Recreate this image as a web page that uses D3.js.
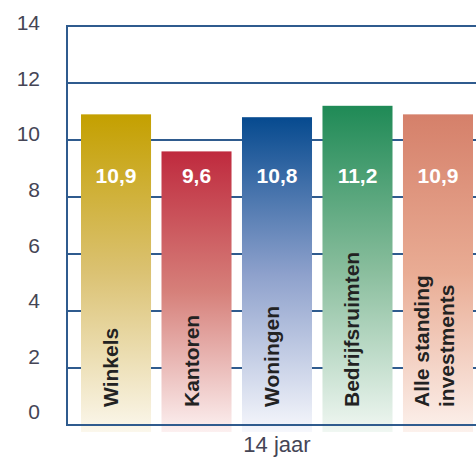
<!DOCTYPE html>
<html>
<head>
<meta charset="utf-8">
<script src="https://cdn.jsdelivr.net/npm/d3@7"></script>
<style>
  body { margin: 0; background: #fff; }
  text { font-family: "Liberation Sans", Arial, sans-serif; }
</style>
</head>
<body>
<svg width="476" height="457"></svg>
<script>
// data
var categories = ["Winkels", "Kantoren", "Woningen", "Bedrijfsruimten", "Alle standing investments"];
var values = [10.9, 9.6, 10.8, 11.2, 10.9];
var valueLabels = ["10,9", "9,6", "10,8", "11,2", "10,9"];
var catLines = [["Winkels"], ["Kantoren"], ["Woningen"], ["Bedrijfsruimten"], ["Alle standing", "investments"]];
var yTicks = [0, 2, 4, 6, 8, 10, 12, 14];
var xTitle = "14 jaar";

// gradient colours per bar: top, middle, bottom
var barColors = [
    ["#c4a000", "#dbc273", "#fbf7ec"],
    ["#bf2a3e", "#d6807a", "#fcf0f0"],
    ["#064a8f", "#8ea1cc", "#f6f7fc"],
    ["#1f8a56", "#88bd9c", "#f0f7f2"],
    ["#d5806a", "#e9ac94", "#fcf1ec"]
];

var svg = d3.select("svg"),
    plotLeft = 67, plotTop = 26, plotBottom = 425, plotRight = 487,
    axisColor = "#2f5b8e",
    textColor = "#454555";

var x = d3.scaleBand()
    .domain(categories)
    .range([plotLeft, plotRight])
    .paddingInner(0.13)
    .paddingOuter(0.174);

var y = d3.scaleLinear().domain([0, 14]).range([plotBottom, plotTop]);

// the tick labels sit on a slightly tighter scale than the grid in the original
var yLabel = d3.scaleLinear().domain([0, 14]).range([412, 23]);

var defs = svg.append("defs");
barColors.forEach(function(c, i) {
    var grad = defs.append("linearGradient")
        .attr("id", "grad" + i)
        .attr("x1", 0).attr("y1", 0).attr("x2", 0).attr("y2", 1);
    grad.append("stop").attr("offset", "0%").attr("stop-color", c[0]);
    grad.append("stop").attr("offset", "50%").attr("stop-color", c[1]);
    grad.append("stop").attr("offset", "100%").attr("stop-color", c[2]);
});

// gridlines
svg.append("g")
    .selectAll("line")
    .data(yTicks.filter(function(d) { return d > 0; }))
    .enter().append("line")
    .attr("x1", plotLeft)
    .attr("x2", 476)
    .attr("y1", function(d) { return y(d); })
    .attr("y2", function(d) { return y(d); })
    .attr("stroke", axisColor)
    .attr("stroke-width", 2);

// tick labels
var yAxis = svg.append("g")
    .attr("transform", "translate(48,0)")
    .call(d3.axisLeft(yLabel).tickValues(yTicks).tickSize(0).tickPadding(8));
yAxis.select(".domain").remove();
yAxis.selectAll("text")
    .attr("fill", textColor)
    .style("font-size", "21px")
    .style("font-family", "'Liberation Sans', Arial, sans-serif");

// bars
var bars = svg.append("g")
    .selectAll("g")
    .data(categories)
    .enter().append("g");

bars.append("rect")
    .attr("x", function(d) { return x(d); })
    .attr("y", function(d, i) { return y(values[i]); })
    .attr("width", x.bandwidth())
    .attr("height", function(d, i) { return y(0) - y(values[i]) + 7; })
    .attr("fill", function(d, i) { return "url(#grad" + i + ")"; });

bars.append("text")
    .attr("x", function(d) { return x(d) + x.bandwidth() / 2; })
    .attr("y", y(10) + 43)
    .attr("text-anchor", "middle")
    .attr("fill", "#fff")
    .style("font-size", "21px")
    .style("font-weight", "bold")
    .text(function(d, i) { return valueLabels[i]; });

var catText = bars.append("text")
    .attr("transform", function(d, i) {
        var cx = x(d) + x.bandwidth() / 2;
        var shift = catLines[i].length > 1 ? -9 : 2;
        return "translate(" + (cx + shift) + "," + (y(0) - 18) + ") rotate(-90)";
    })
    .attr("fill", "#222")
    .style("font-size", "21px")
    .style("font-weight", "bold");

catText.selectAll("tspan")
    .data(function(d, i) { return catLines[i]; })
    .enter().append("tspan")
    .attr("x", 0)
    .attr("dy", function(d, j) { return j == 0 ? 0 : 25; })
    .text(function(d) { return d; });

// axes lines
svg.append("line")
    .attr("x1", plotLeft).attr("x2", plotLeft)
    .attr("y1", plotTop - 1).attr("y2", plotBottom + 1)
    .attr("stroke", axisColor).attr("stroke-width", 2);
svg.append("line")
    .attr("x1", plotLeft).attr("x2", 476)
    .attr("y1", plotBottom).attr("y2", plotBottom)
    .attr("stroke", axisColor).attr("stroke-width", 2);

svg.append("text")
    .attr("x", 277)
    .attr("y", 452)
    .attr("text-anchor", "middle")
    .attr("fill", textColor)
    .style("font-size", "22px")
    .text(xTitle);
</script>
</body>
</html>
